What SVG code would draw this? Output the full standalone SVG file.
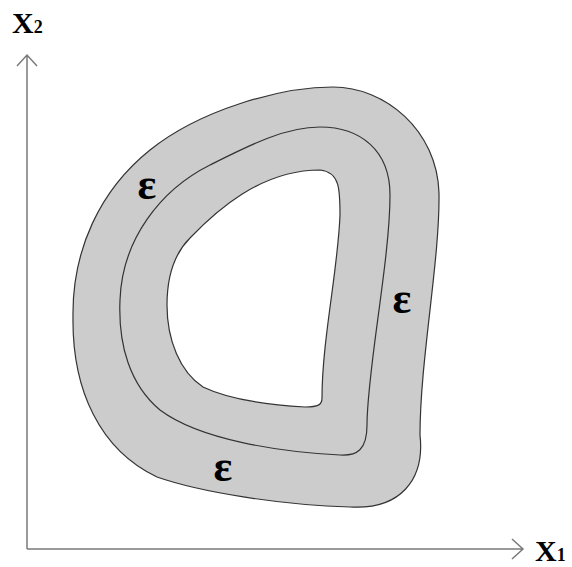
<svg xmlns="http://www.w3.org/2000/svg" width="572" height="567" viewBox="0 0 572 567">
<style>
.axis{fill:none;stroke:#7a7a7a;stroke-width:1.5}
.band{stroke:#333;stroke-width:1.2}
.lbl{font-family:"Liberation Serif",serif;font-weight:bold;fill:#000}
.eps{font-family:"Liberation Serif",serif;font-weight:bold;font-size:44px;fill:#000;text-anchor:middle}
</style>
<rect width="572" height="567" fill="#fff"/>
<g id="region">
<path id="outer" class="band" fill="#cccccc" d="M333,87 C385,87 437,130 439,193 C440,260 420,360 420,435 C425,480 400,510 350,507 C280,505 200,492 157,477 C100,450 72,390 73,317 C72,250 100,190 150,150 C200,110 280,87 333,87 Z"/>
<path id="middle" class="band" fill="none" d="M320,127 C360,127 390,150 390,195 C390,260 367,370 367,425 C367,450 357,456 340,455 C280,452 200,440 160,410 C130,385 118,345 120,300 C122,240 160,190 210,165 C250,145 285,127 320,127 Z"/>
<path id="inner" class="band" fill="#ffffff" d="M320,170 C340,172 340,190 340,215 C338,270 322,340 322,398 C322,405 318,407 305,407 C270,405 230,400 203,387 C180,372 167,340 167,305 C167,272 176,252 190,238 C215,212 260,170 320,170 Z"/>
</g>
<g id="eps-labels">
<text class="eps" x="147" y="199">ε</text>
<text class="eps" x="402" y="313">ε</text>
<text class="eps" x="223" y="481">ε</text>
</g>
<g id="axes">
<path class="axis" d="M27,549 L27,56 M17,66 L27,55 L37,66"/>
<path class="axis" d="M27,549 L522,549 M512,539 L523,549 L512,559"/>
</g>
<g id="axis-labels">
<text class="lbl" x="12" y="33" font-size="30">X<tspan font-size="18">2</tspan></text>
<text class="lbl" x="535" y="561" font-size="30">X<tspan font-size="18">1</tspan></text>
</g>
</svg>
